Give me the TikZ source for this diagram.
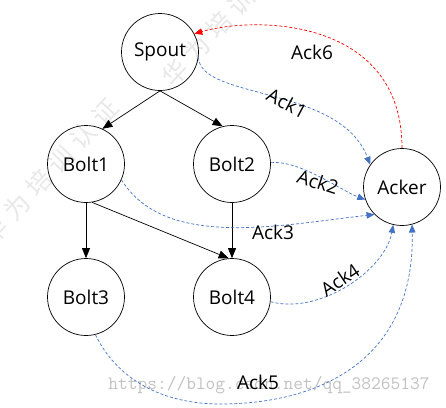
\documentclass[tikz,border=0pt]{standalone}
\usepackage{fontspec}
\setmainfont{Open Sans}
\newfontfamily\cjkwm[LetterSpace=30]{Noto Sans CJK SC}
\usetikzlibrary{arrows.meta}
\definecolor{ackblue}{HTML}{4472C4}
\definecolor{ackred}{HTML}{FF0000}
\tikzset{
  comp/.style={circle, draw=black, line width=0.7pt, minimum size=77pt, inner sep=0pt, font=\fontsize{19}{22}\selectfont},
  flow/.style={draw=black, line width=0.7pt, -{Triangle[length=10pt,width=8pt]}},
  ackline/.style={draw=ackblue, line width=0.7pt, dash pattern=on 3pt off 2pt, -{Triangle[length=8pt,width=6.5pt]}},
  ackredline/.style={draw=ackred, line width=0.7pt, dash pattern=on 3pt off 2pt, -{Triangle[length=8pt,width=6.5pt]}},
  acklabel/.style={font=\fontsize{19}{22}\selectfont, inner sep=0pt},
  wm/.style={text=black!9, font=\cjkwm\fontsize{25}{28}\selectfont, inner sep=0pt},
  url/.style={text=black!24, font=\ttfamily\fontsize{18.9}{20}\selectfont, inner sep=0pt}
}
\begin{document}
\begin{tikzpicture}[x=1pt,y=-1pt]
\useasboundingbox (0,0) rectangle (446,407);
\fill[white] (0,0) rectangle (446,407);
\begin{scope}
\clip (0,0) rectangle (446,407);
\node[wm, rotate=47, anchor=west] (wmarka) at (-14,240) {华为培训认证};
\node[wm, rotate=47, anchor=west] (wmarkb) at (166,82) {华为培训};
\end{scope}
\node[url] (link) at (269,385) {https://blog.csdn.net/qq\_38265137};

\node[comp] (Spout) at (160,52) {Spout};
\node[comp] (Bolt1) at (86,164) {Bolt1};
\node[comp] (Bolt2) at (232,164) {Bolt2};
\node[comp] (Acker) at (402,187) {Acker};
\node[comp] (Bolt3) at (86,297) {Bolt3};
\node[comp] (Bolt4) at (232,297) {Bolt4};

\draw[flow] (Spout.south) -- (Bolt1.65);
\draw[flow] (Spout.south) -- (Bolt2.104);
\draw[flow] (Bolt1.south) -- (Bolt3.north);
\draw[flow] (Bolt2.south) -- (Bolt4.north);
\draw[flow] (Bolt1.-81) -- (Bolt4.95);

\draw[ackline] (Spout.-8) .. controls (200,100) and (340,85) .. (Acker.145);
\draw[ackline] (Bolt2.2) .. controls (300,160) and (340,190) .. (Acker.199);
\draw[ackline] (Bolt1.-24) .. controls (165,250) and (280,225) .. (Acker.225);
\draw[ackline] (Bolt4.-7) .. controls (320,315) and (385,270) .. (Acker.257);
\coordinate (low5) at (220,404);
\draw[ackline] (Bolt3.-76) .. controls (120,385) and (170,404) .. (low5) .. controls (320,404) and (415,360) .. (Acker.-75);
\draw[ackredline] (Acker.north) .. controls (402,20) and (260,15) .. (Spout.28);

\node[acklabel] (l6) at (312,52) {Ack6};
\node[acklabel, rotate=-28] (l1) at (287,103) {Ack1};
\node[acklabel, rotate=-18] (l2) at (318,182) {Ack2};
\node[acklabel] (l3) at (273,232) {Ack3};
\node[acklabel, rotate=34] (l4) at (340,280) {Ack4};
\node[acklabel] (l5) at (258,382) {Ack5};
\end{tikzpicture}
\end{document}
